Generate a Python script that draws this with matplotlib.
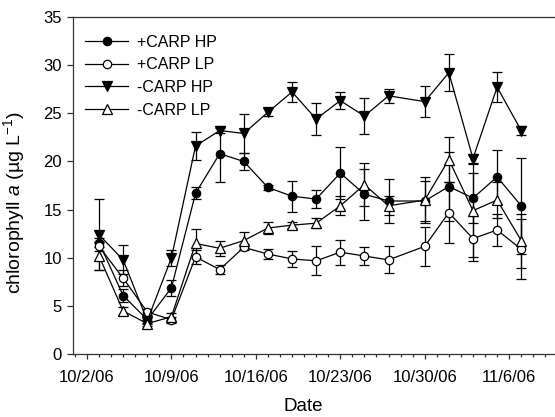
import datetime as dt

import matplotlib
matplotlib.use("Agg")
import matplotlib.pyplot as plt
import matplotlib.dates as mdates
from matplotlib.lines import Line2D
from matplotlib.ticker import FuncFormatter

plt.rcParams['font.family'] = ['Liberation Sans', 'DejaVu Sans']
plt.rcParams['mathtext.fontset'] = 'custom'
plt.rcParams['mathtext.rm'] = 'Liberation Sans'
plt.rcParams['mathtext.it'] = 'Liberation Sans:italic'

# sampling dates (2006)
dates = ['10/3', '10/5', '10/7', '10/9', '10/11', '10/13', '10/15', '10/17', '10/19',
         '10/21', '10/23', '10/25', '10/27', '10/30', '11/1', '11/3', '11/5', '11/7']

# chlorophyll a means and error bars, ug/L
carp_hp = [11.6, 6.1, 3.6, 6.9, 16.7, 20.8, 20.0, 17.3, 16.4,
           16.1, 18.8, 16.6, 15.9, 15.9, 17.4, 16.2, 18.4, 15.4]
carp_hp_err = [0.5, 0.7, 0.3, 0.85, 0.6, 2.9, 0.9, 0.3, 1.6,
               0.9, 2.65, 2.65, 2.25, 2.1, 3.6, 2.6, 2.8, 5.0]

carp_lp = [11.2, 7.9, 4.4, 3.6, 10.1, 8.8, 11.1, 10.4, 9.9,
           9.7, 10.6, 10.2, 9.8, 11.2, 14.7, 12.0, 12.9, 10.9]
carp_lp_err = [0.5, 0.8, 0.3, 0.3, 0.7, 0.5, 0.3, 0.5, 0.8,
               1.5, 1.3, 0.95, 1.4, 2.0, 3.15, 2.3, 1.7, 3.1]

nocarp_hp = [12.4, 9.8, 3.5, 10.0, 21.6, 23.2, 22.9, 25.1, 27.2,
             24.4, 26.3, 24.7, 26.8, 26.2, 29.2, 20.3, 27.7, 23.2]
nocarp_hp_err = [3.7, 1.5, 0.3, 0.8, 1.4, 0.3, 2.0, 0.4, 1.0,
                 1.7, 0.9, 1.9, 0.75, 1.6, 1.95, 0.5, 1.55, 0.45]

nocarp_lp = [10.2, 4.5, 3.2, 3.9, 11.5, 11.0, 11.8, 13.1, 13.4,
             13.6, 15.4, 17.6, 15.4, 16.0, 20.2, 14.9, 16.0, 11.8]
nocarp_lp_err = [1.45, 0.4, 0.3, 0.4, 1.5, 0.8, 0.85, 0.6, 0.3,
                 0.5, 1.0, 2.2, 1.0, 2.4, 2.35, 4.8, 1.9, 2.8]

x = [dt.datetime(2006, int(d.split('/')[0]), int(d.split('/')[1])) for d in dates]

fig = plt.figure(figsize=(5.55, 4.17), dpi=100)
ax = fig.add_axes([0.1315, 0.150, 0.8685, 0.810])

series = [
    (carp_hp, carp_hp_err, 'o', 6.0, 'black', '+CARP HP'),
    (carp_lp, carp_lp_err, 'o', 6.0, 'white', '+CARP LP'),
    (nocarp_hp, nocarp_hp_err, 'v', 7.0, 'black', '-CARP HP'),
    (nocarp_lp, nocarp_lp_err, '^', 7.0, 'white', '-CARP LP'),
]
handles = []
for vals, err, mk, ms, fc, lab in series:
    style = dict(marker=mk, markersize=ms, mfc=fc, mec='black', mew=0.9,
                 color='black', lw=0.9)
    ax.errorbar(x, vals, yerr=err, elinewidth=0.9, capsize=3.6, capthick=0.9,
                **style)
    # legend shows line + marker only, no error bars
    handles.append(Line2D([], [], label=lab, **style))

start = dt.datetime(2006, 10, 2)
ax.set_xlim(start - dt.timedelta(days=1.16), start + dt.timedelta(days=38.8))
ax.set_ylim(0, 35)
ax.set_yticks(range(0, 36, 5))

ax.xaxis.set_major_locator(mdates.WeekdayLocator(byweekday=mdates.MO))
ax.xaxis.set_minor_locator(mdates.DayLocator())
ax.xaxis.set_major_formatter(FuncFormatter(
    lambda v, pos: '{d.month}/{d.day}/{y}'.format(d=mdates.num2date(v), y=mdates.num2date(v).strftime('%y'))))

ax.spines['right'].set_visible(False)
for s in ['left', 'bottom', 'top']:
    ax.spines[s].set_linewidth(0.9)
    ax.spines[s].set_color('#333333')
ax.tick_params(axis='y', which='major', direction='out', length=4.3, width=0.9,
               labelsize=12, pad=3.6, color='#333333')
ax.tick_params(axis='x', which='major', direction='out', length=3.6, width=0.9,
               labelsize=12, pad=7.5, color='#333333')
ax.tick_params(axis='x', which='minor', direction='out', length=2.2, width=0.9,
               color='#333333')
ax.tick_params(top=False, right=False)

ax.set_xlabel('Date', fontsize=13.5)
ax.xaxis.set_label_coords(0.477, -0.128)
ax.set_ylabel('chlorophyll $a$ (µg L$^{-1}$)', fontsize=14)
ax.yaxis.set_label_coords(-0.095, 0.451)

ax.legend(handles=handles, loc='upper left', frameon=False, fontsize=11.5,
          numpoints=1, handlelength=2.7, handletextpad=0.55, labelspacing=0.48,
          borderaxespad=0.0, bbox_to_anchor=(0.0116, 0.966))

fig.savefig('out.png', dpi=100)
